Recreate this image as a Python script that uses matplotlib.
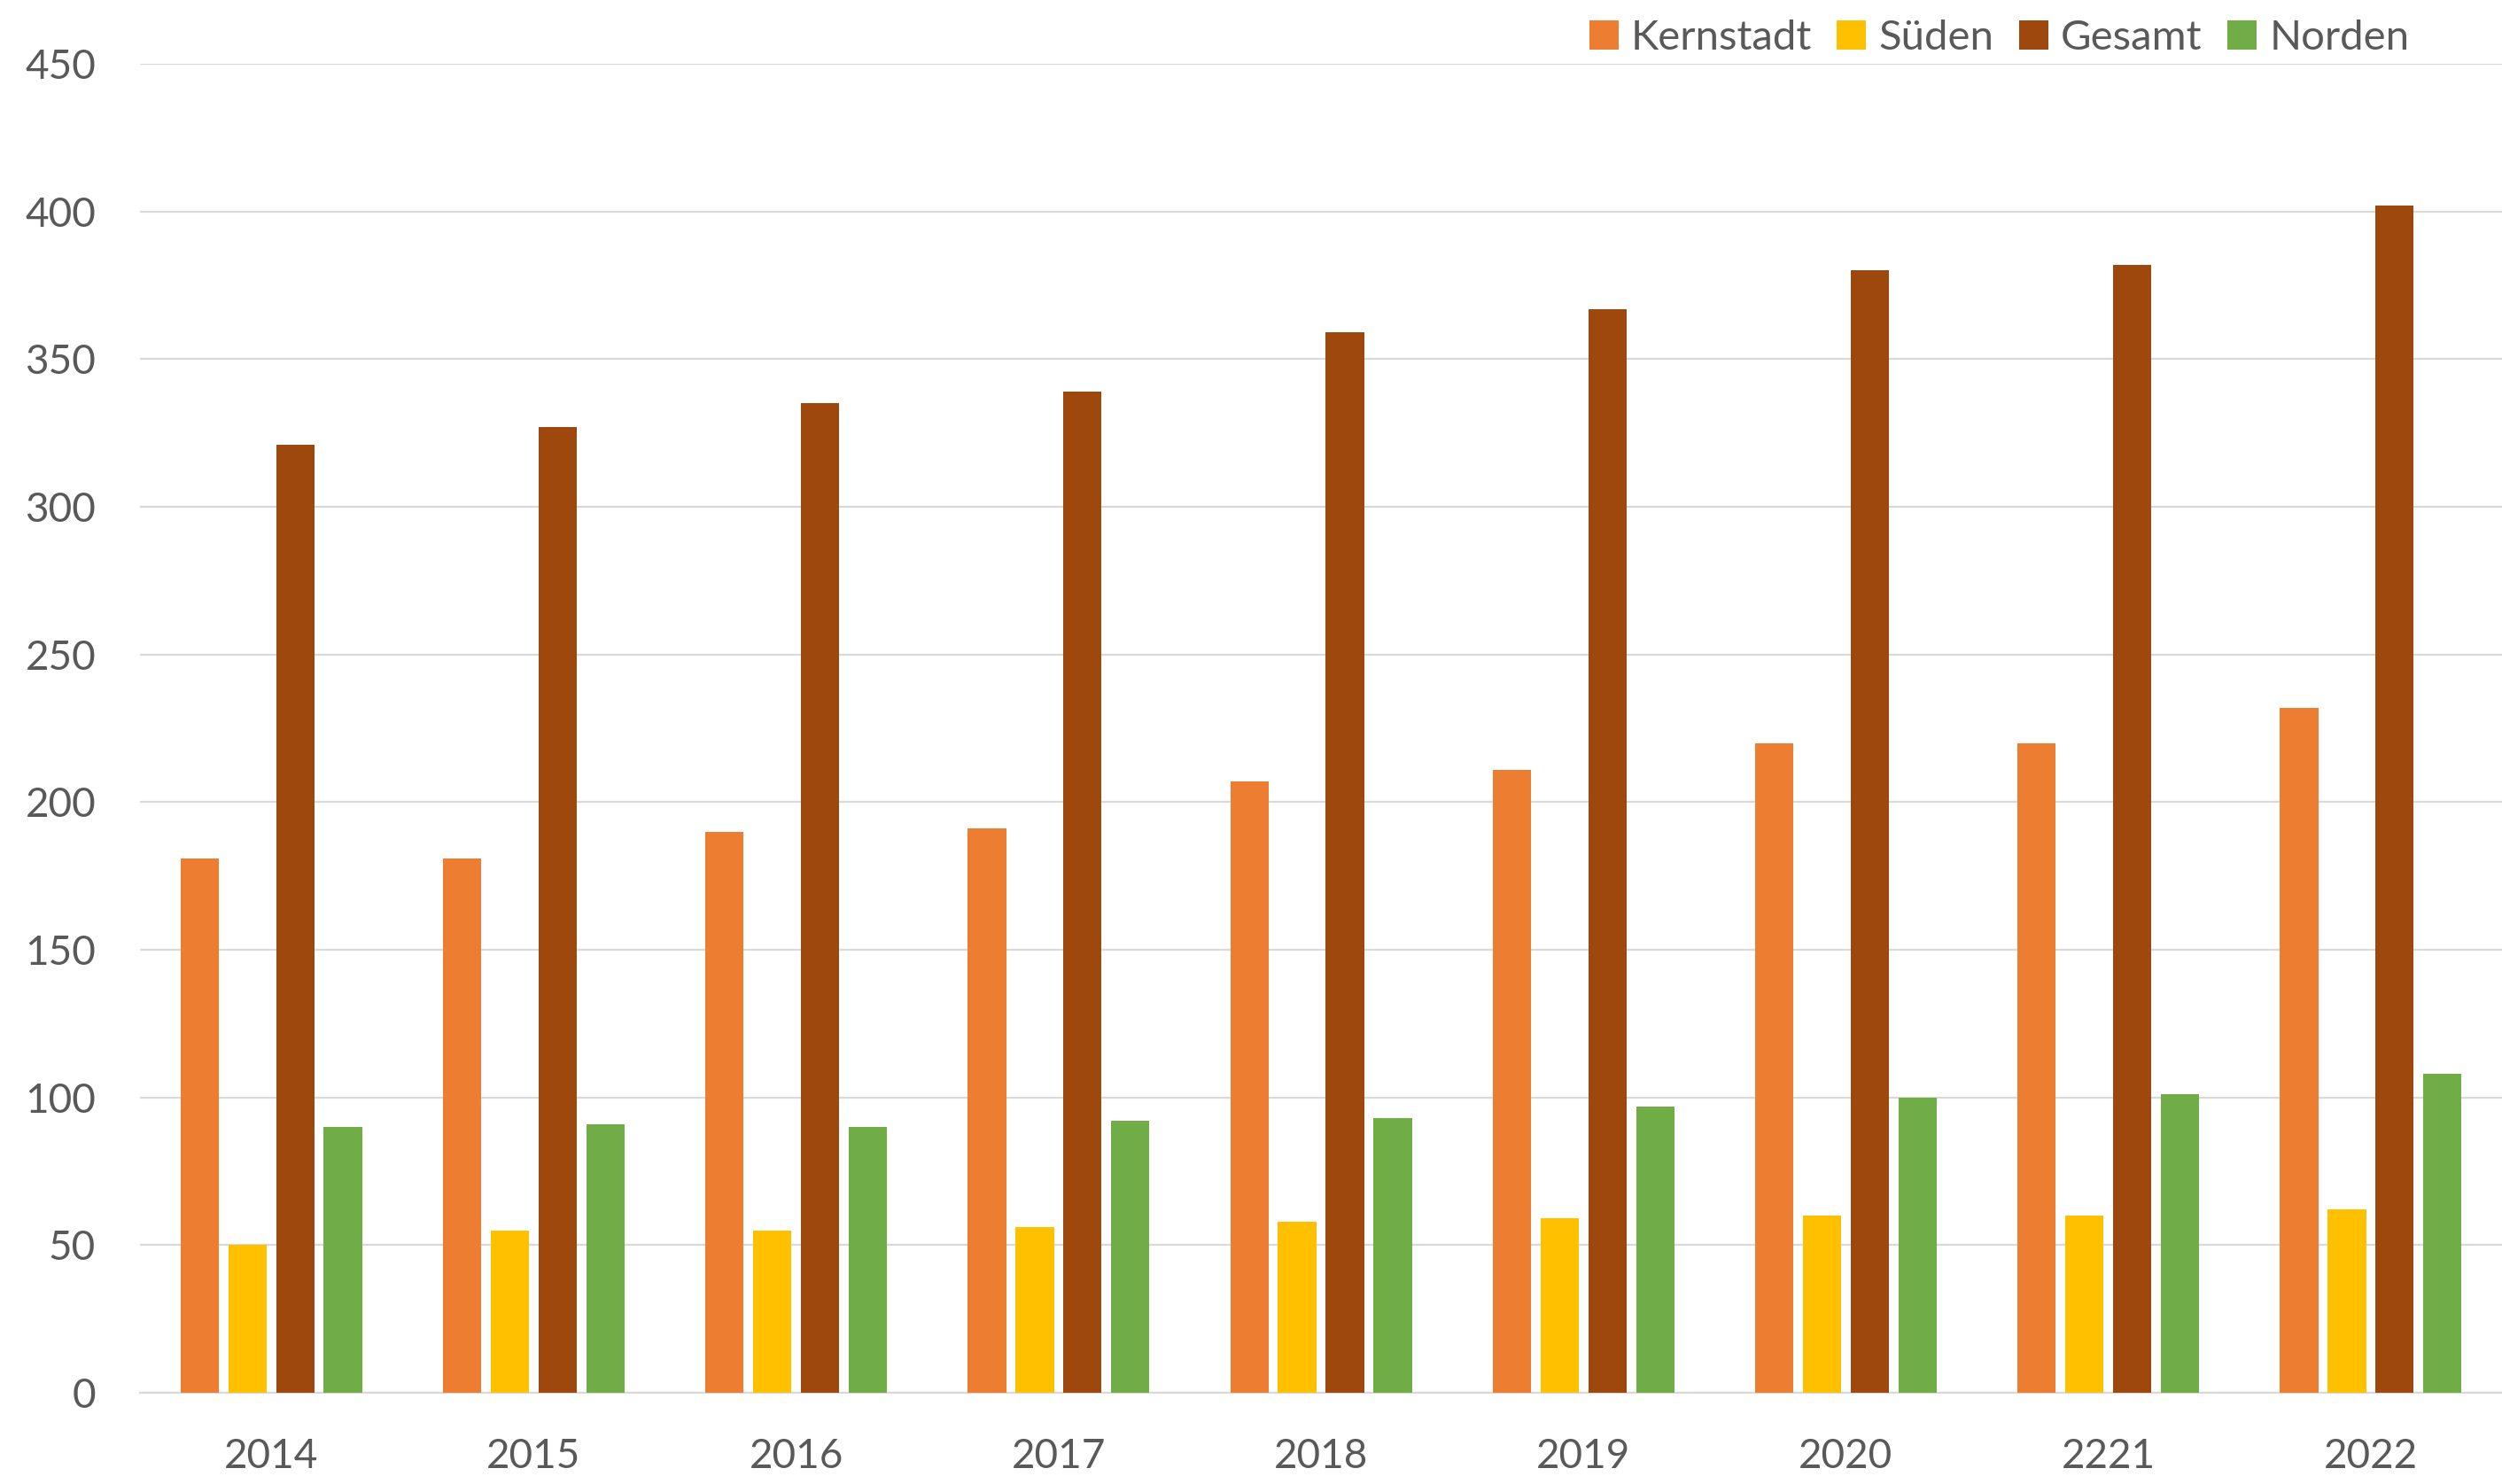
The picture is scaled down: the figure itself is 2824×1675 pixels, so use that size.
import matplotlib
matplotlib.use("Agg")
import matplotlib.pyplot as plt
import numpy as np

plt.rcParams["font.family"] = ["Lato", "DejaVu Sans"]
TEXT = "#595959"
GRID = "#D9D9D9"

years = ["2014", "2015", "2016", "2017", "2018", "2019", "2020", "2221", "2022"]
kernstadt = [181, 181, 190, 191, 207, 211, 220, 220, 232]
sueden = [50, 55, 55, 56, 58, 59, 60, 60, 62]
gesamt = [321, 327, 335, 339, 359, 367, 380, 382, 402]
norden = [90, 91, 90, 92, 93, 97, 100, 101, 108]

series = [("Kernstadt", kernstadt, "#ED7D31"),
          ("Süden", sueden, "#FFC000"),
          ("Gesamt", gesamt, "#9E480E"),
          ("Norden", norden, "#70AD47")]

fig = plt.figure(figsize=(28.24, 16.75), dpi=100)
ax = fig.add_axes([0.056, 0.0615, 0.944, 0.8955])

x = np.arange(len(years))
width = 0.146
step = 0.182
for k, (name, vals, col) in enumerate(series):
    ax.bar(x + (k - 1.5) * step, vals, width, color=col, label=name, zorder=3)

ax.set_xlim(-0.5, len(years) - 0.5)
ax.set_ylim(0, 450)
ax.set_yticks(range(0, 451, 50))
ax.set_xticks(x)
ax.set_xticklabels(years)
ax.tick_params(axis="both", length=0, labelsize=33, colors=TEXT)
ax.tick_params(axis="y", pad=36)
ax.tick_params(axis="x", pad=37)
ax.grid(axis="y", color=GRID, linewidth=1.6, zorder=0)
for side in ["top", "right", "left"]:
    ax.spines[side].set_visible(False)
ax.spines["bottom"].set_color(GRID)
ax.spines["bottom"].set_linewidth(1.6)

fig.legend(loc="upper right", bbox_to_anchor=(0.978, 1.012), ncol=4, frameon=False,
           fontsize=34, labelcolor=TEXT, handlelength=0.7, handleheight=0.7,
           handletextpad=0.3, columnspacing=0.6)

fig.savefig("out.png", dpi=100, facecolor="white")
